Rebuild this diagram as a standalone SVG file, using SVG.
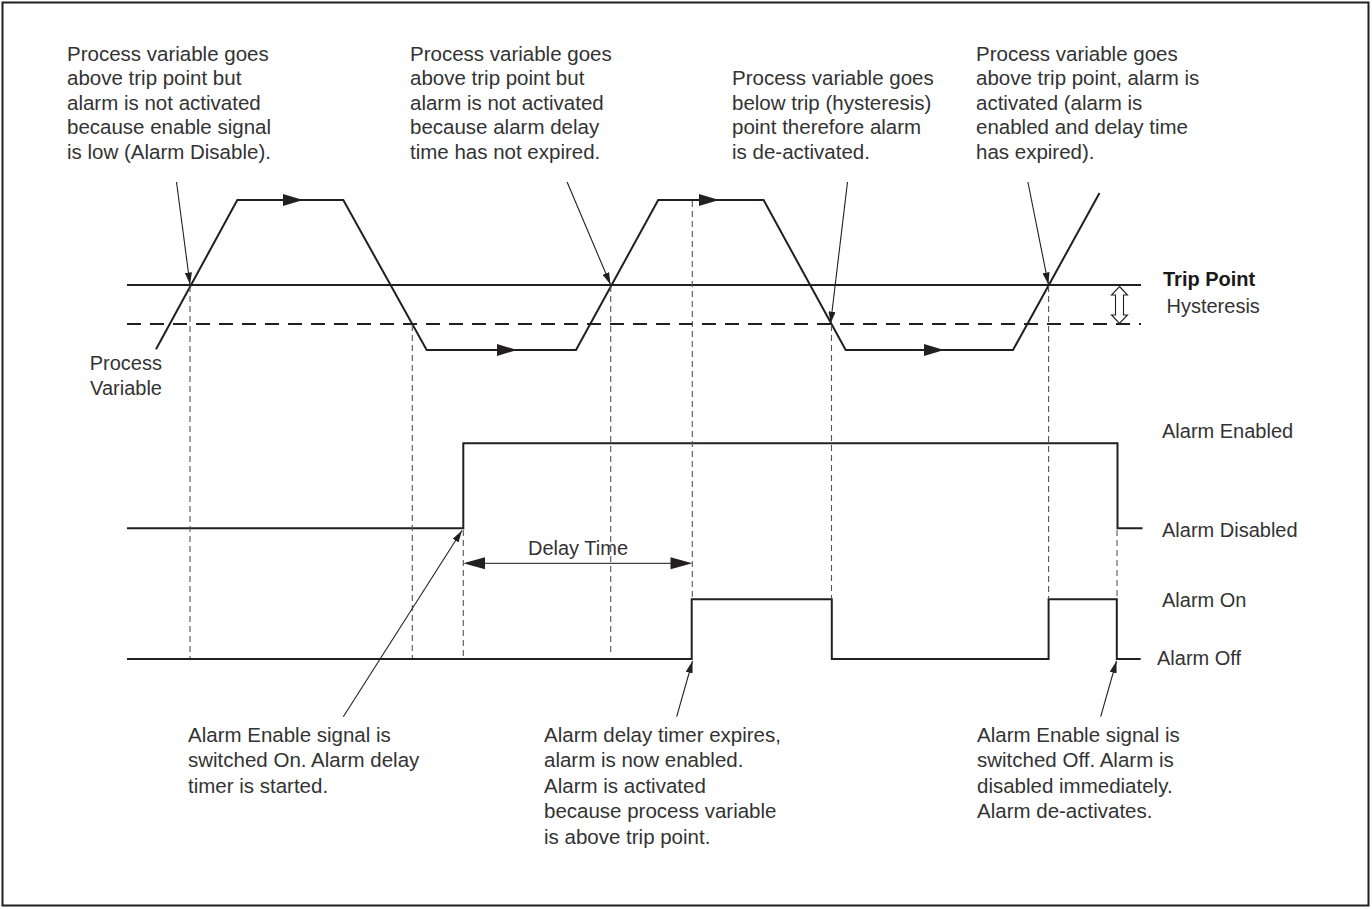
<svg xmlns="http://www.w3.org/2000/svg" width="1372" height="909" viewBox="0 0 1372 909">
<style>
.t{font-family:"Liberation Sans",Arial,sans-serif;font-size:20.5px;fill:#333}
.lb{font-family:"Liberation Sans",Arial,sans-serif;font-size:20px;fill:#333}
.b{font-weight:bold;fill:#1a1a1a}
.sig{fill:none;stroke:#231f20;stroke-width:2;stroke-linejoin:miter}
.ref{fill:none;stroke:#231f20;stroke-width:2}
.hys{fill:none;stroke:#231f20;stroke-width:2;stroke-dasharray:14 9}
.dv{fill:none;stroke:#555;stroke-width:1.1;stroke-dasharray:6 4}
.ann{fill:none;stroke:#231f20;stroke-width:1.1}
.ah{fill:#231f20}
</style>
<defs>
<marker id="tip" markerUnits="userSpaceOnUse" markerWidth="12" markerHeight="7" refX="12" refY="3.5" orient="auto">
<path d="M0,0 L12,3.5 L0,7 Z" fill="#231f20"/>
</marker>
</defs>
<rect x="2.5" y="2.5" width="1366" height="903" fill="#fff" stroke="#231f20" stroke-width="2"/>

<g id="reference-lines">
<line class="ref" x1="127" y1="285" x2="1141" y2="285"/>
<line class="hys" x1="127" y1="324" x2="1141" y2="324"/>
<path d="M1119.5,286.5 L1127.5,295 L1123.5,295 L1123.5,315 L1127.5,315 L1119.5,323.5 L1111.5,315 L1115.5,315 L1115.5,295 L1111.5,295 Z" fill="#fff" stroke="#231f20" stroke-width="1.1"/>
</g>

<g id="process-variable">
<polyline class="sig" points="156,349.3 237.3,200 343.3,200 426.7,350 576,350 658.2,200 763.6,200 845.7,350 1013,350 1099.5,193"/>
<polygon class="ah" points="283,194 303,200 283,206"/>
<polygon class="ah" points="497,344 517,350 497,356"/>
<polygon class="ah" points="699,194 719,200 699,206"/>
<polygon class="ah" points="924,344 944,350 924,356"/>
</g>

<g id="enable-signal">
<polyline class="sig" points="127,528.3 463.3,528.3 463.3,443.3 1117.5,443.3 1117.5,528.3 1142.5,528.3"/>
</g>

<g id="alarm-output">
<polyline class="sig" points="127,659 691.7,659 691.7,599.3 831.8,599.3 831.8,659 1048.6,659 1048.6,599.3 1116.8,599.3 1116.8,659 1140.7,659"/>
</g>

<g id="connectors">
<line class="dv" x1="190" y1="286" x2="190" y2="658"/>
<line class="dv" x1="412.3" y1="325" x2="412.3" y2="658"/>
<line class="dv" x1="463.3" y1="530" x2="463.3" y2="656"/>
<line class="dv" x1="610.7" y1="286" x2="610.7" y2="656"/>
<line class="dv" x1="692.3" y1="201" x2="692.3" y2="598"/>
<line class="dv" x1="831.5" y1="325" x2="831.5" y2="598"/>
<line class="dv" x1="1048.6" y1="286" x2="1048.6" y2="598"/>
<line class="dv" x1="1117" y1="530" x2="1117" y2="598"/>

<line class="ann" x1="176.5" y1="182" x2="190" y2="284.5" marker-end="url(#tip)"/>
<line class="ann" x1="567.1" y1="182" x2="610.5" y2="284.5" marker-end="url(#tip)"/>
<line class="ann" x1="847.5" y1="182" x2="830.6" y2="323.5" marker-end="url(#tip)"/>
<line class="ann" x1="1027.9" y1="182" x2="1048.4" y2="284.5" marker-end="url(#tip)"/>
<line class="ann" x1="343.3" y1="716.7" x2="462" y2="530.5" marker-end="url(#tip)"/>
<line class="ann" x1="676.7" y1="716.7" x2="692.5" y2="661" marker-end="url(#tip)"/>
<line class="ann" x1="1100.7" y1="716.7" x2="1116.5" y2="661" marker-end="url(#tip)"/>

<line x1="484" y1="563.3" x2="671" y2="563.3" stroke="#444" stroke-width="1.2"/>
<polygon class="ah" points="463.3,563.3 485,557.3 485,569.3"/>
<polygon class="ah" points="692.3,563.3 670.5,557.3 670.5,569.3"/>
</g>

<g id="note-1">
<text class="t" x="67" y="60.5">Process variable goes</text>
<text class="t" x="67" y="85">above trip point but</text>
<text class="t" x="67" y="109.5">alarm is not activated</text>
<text class="t" x="67" y="134">because enable signal</text>
<text class="t" x="67" y="158.5">is low (Alarm Disable).</text>
</g>
<g id="note-2">
<text class="t" x="410" y="60.5">Process variable goes</text>
<text class="t" x="410" y="85">above trip point but</text>
<text class="t" x="410" y="109.5">alarm is not activated</text>
<text class="t" x="410" y="134">because alarm delay</text>
<text class="t" x="410" y="158.5">time has not expired.</text>
</g>
<g id="note-3">
<text class="t" x="732" y="85">Process variable goes</text>
<text class="t" x="732" y="109.5">below trip (hysteresis)</text>
<text class="t" x="732" y="134">point therefore alarm</text>
<text class="t" x="732" y="158.5">is de-activated.</text>
</g>
<g id="note-4">
<text class="t" x="976" y="60.5">Process variable goes</text>
<text class="t" x="976" y="85">above trip point, alarm is</text>
<text class="t" x="976" y="109.5">activated (alarm is</text>
<text class="t" x="976" y="134">enabled and delay time</text>
<text class="t" x="976" y="158.5">has expired).</text>
</g>

<g id="label-pv">
<text class="lb" x="162" y="370" text-anchor="end">Process</text>
<text class="lb" x="162" y="394.5" text-anchor="end">Variable</text>
</g>
<g id="label-trip">
<text class="lb b" x="1163" y="285.5">Trip Point</text>
<text class="lb" x="1166.5" y="312.7">Hysteresis</text>
</g>
<g id="label-delay">
<text class="lb" x="578" y="555" text-anchor="middle">Delay Time</text>
</g>
<g id="label-states">
<text class="lb" x="1162" y="438.3">Alarm Enabled</text>
<text class="lb" x="1162" y="536.7">Alarm Disabled</text>
<text class="lb" x="1162" y="606.7">Alarm On</text>
<text class="lb" x="1157" y="665">Alarm Off</text>
</g>

<g id="note-5">
<text class="t" x="188" y="741.7">Alarm Enable signal is</text>
<text class="t" x="188" y="767.2">switched On. Alarm delay</text>
<text class="t" x="188" y="792.7">timer is started.</text>
</g>
<g id="note-6">
<text class="t" x="544" y="741.7">Alarm delay timer expires,</text>
<text class="t" x="544" y="767.2">alarm is now enabled.</text>
<text class="t" x="544" y="792.7">Alarm is activated</text>
<text class="t" x="544" y="818.2">because process variable</text>
<text class="t" x="544" y="843.7">is above trip point.</text>
</g>
<g id="note-7">
<text class="t" x="977" y="741.7">Alarm Enable signal is</text>
<text class="t" x="977" y="767.2">switched Off. Alarm is</text>
<text class="t" x="977" y="792.7">disabled immediately.</text>
<text class="t" x="977" y="818.2">Alarm de-activates.</text>
</g>
</svg>
